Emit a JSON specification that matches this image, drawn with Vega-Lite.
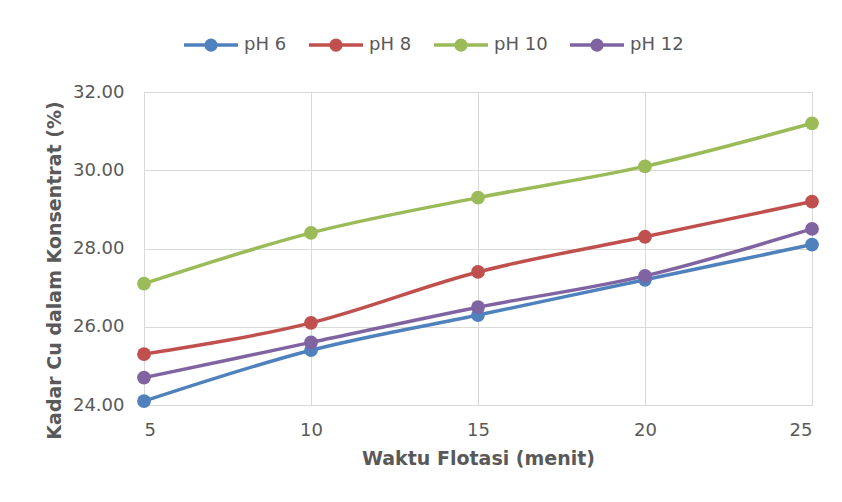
{
  "$schema": "https://vega.github.io/schema/vega-lite/v6.json",
  "autosize": {"type": "none"},
  "width": 668,
  "height": 313,
  "padding": {"left": 144, "top": 92, "right": 30, "bottom": 97},
  "background": "white",
  "data": {"values": [
    {"t": 5, "s": "pH 6", "v": 24.1},
    {"t": 10, "s": "pH 6", "v": 25.4},
    {"t": 15, "s": "pH 6", "v": 26.3},
    {"t": 20, "s": "pH 6", "v": 27.2},
    {"t": 25, "s": "pH 6", "v": 28.1},
    {"t": 5, "s": "pH 8", "v": 25.3},
    {"t": 10, "s": "pH 8", "v": 26.1},
    {"t": 15, "s": "pH 8", "v": 27.4},
    {"t": 20, "s": "pH 8", "v": 28.3},
    {"t": 25, "s": "pH 8", "v": 29.2},
    {"t": 5, "s": "pH 10", "v": 27.1},
    {"t": 10, "s": "pH 10", "v": 28.4},
    {"t": 15, "s": "pH 10", "v": 29.3},
    {"t": 20, "s": "pH 10", "v": 30.1},
    {"t": 25, "s": "pH 10", "v": 31.2},
    {"t": 5, "s": "pH 12", "v": 24.7},
    {"t": 10, "s": "pH 12", "v": 25.6},
    {"t": 15, "s": "pH 12", "v": 26.5},
    {"t": 20, "s": "pH 12", "v": 27.3},
    {"t": 25, "s": "pH 12", "v": 28.5}
  ]},
  "encoding": {
    "x": {"field": "t", "type": "quantitative",
      "scale": {"domain": [5, 25], "nice": false, "zero": false},
      "axis": {"values": [5, 10, 15, 20, 25], "title": "Waktu Flotasi (menit)", "ticks": false,
        "domainColor": "#d9d9d9", "gridColor": "#d9d9d9", "labelPadding": 16, "titlePadding": 10}},
    "y": {"field": "v", "type": "quantitative",
      "scale": {"domain": [24, 32], "nice": false, "zero": false},
      "axis": {"values": [24, 26, 28, 30, 32], "format": ".2f", "title": "Kadar Cu dalam Konsentrat (%)", "ticks": false,
        "domainColor": "#d9d9d9", "gridColor": "#d9d9d9", "labelPadding": 20, "titlePadding": 8, "titleY": 178}},
    "color": {"field": "s", "type": "nominal",
      "scale": {"domain": ["pH 6", "pH 8", "pH 10", "pH 12"], "range": ["#4F81BD", "#C0504D", "#9BBB59", "#8064A2"]},
      "legend": {"title": null, "orient": "none", "direction": "horizontal", "legendX": 38, "legendY": -76,
        "symbolType": "M-1,0H1M-0.18,0A0.18,0.18 0 1,0 0.18,0A0.18,0.18 0 1,0 -0.18,0Z",
        "symbolSize": 2916, "symbolStrokeWidth": 3.5, "labelOffset": 4, "columnPadding": 15,
        "labelFontSize": 18, "labelColor": "#595959", "labelFont": "DejaVu Sans",
        "encode": {"symbols": {"update": {"fill": {"scale": "color", "field": "value"}, "fillOpacity": {"value": 1}}}}}}
  },
  "layer": [
    {"mark": {"type": "line", "strokeWidth": 3.5, "interpolate": "monotone"}},
    {"mark": {"type": "circle", "size": 190, "opacity": 1}}
  ],
  "config": {
    "font": "DejaVu Sans",
    "view": {"stroke": null},
    "axis": {"labelFontSize": 18, "labelColor": "#595959", "labelFont": "DejaVu Sans",
      "titleFontSize": 19, "titleColor": "#595959", "titleFont": "DejaVu Sans", "titleFontWeight": "bold"}
  }
}
